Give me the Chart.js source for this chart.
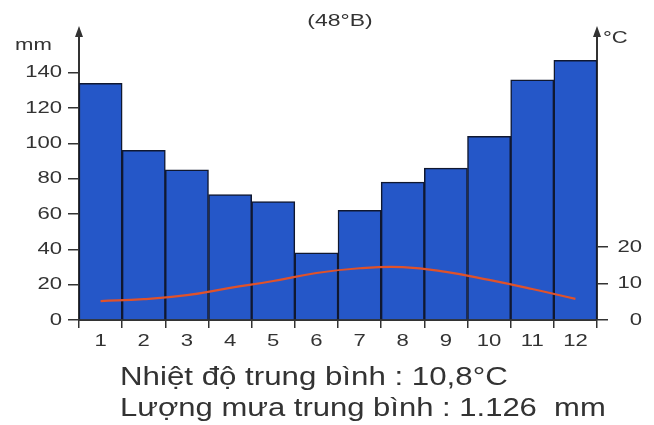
<!DOCTYPE html>
<html>
<head>
<meta charset="utf-8">
<script src="https://cdn.jsdelivr.net/npm/chart.js@4"></script>
<style>
  html, body { margin: 0; padding: 0; background: #fff; }
  #wrap { width: 654px; height: 425px; }
</style>
</head>
<body>
<div id="wrap"><canvas id="climateChart"></canvas></div>
<script>
// climate chart data
var months = ['1', '2', '3', '4', '5', '6', '7', '8', '9', '10', '11', '12'];
var rainfall = [134, 96, 85, 71, 67, 38, 62, 78, 86, 104, 136, 147];
var temperature = [5.2, 5.7, 6.8, 8.8, 10.7, 12.9, 14.2, 14.5, 13.2, 11.0, 8.5, 5.8];
var rainTicks = [0, 20, 40, 60, 80, 100, 120, 140];
var tempTicks = [0, 10, 20];

var textColor = '#333';
var fontFamily = '"Liberation Sans", Arial, sans-serif';

// the scanned figure has wide letters, so text is stretched sideways a bit
function wideText(ctx, text, x, y, align, size, stretch) {
    ctx.save();
    ctx.translate(x, y);
    ctx.scale(stretch, 1);
    ctx.font = size + 'px ' + fontFamily;
    ctx.textAlign = align;
    ctx.textBaseline = 'middle';
    ctx.fillStyle = textColor;
    ctx.fillText(text, 0, 0);
    ctx.restore();
}

// tick labels, arrows, units, title and the two lines of text under the chart
var extrasPlugin = {
    id: 'extras',
    afterDraw: function (chart) {
        var ctx = chart.ctx;
        var area = chart.chartArea;
        var sx = chart.scales.x;
        var sRain = chart.scales.yRain;
        var sTemp = chart.scales.yTemp;

        rainTicks.forEach(function (v) {
            wideText(ctx, String(v), 62, sRain.getPixelForValue(v), 'right', 17, 1.3);
        });
        tempTicks.forEach(function (v) {
            wideText(ctx, String(v), 642, sTemp.getPixelForValue(v), 'right', 17, 1.3);
        });
        months.forEach(function (m, i) {
            wideText(ctx, m, sx.getPixelForValue(i), 341, 'center', 17, 1.3);
        });

        ctx.save();
        ctx.fillStyle = '#333';
        [area.left, area.right].forEach(function (x) {
            ctx.beginPath();
            ctx.moveTo(x, area.top - 6);
            ctx.lineTo(x - 4, area.top + 5);
            ctx.lineTo(x + 4, area.top + 5);
            ctx.closePath();
            ctx.fill();
        });
        ctx.restore();

        wideText(ctx, 'mm', 15, 45, 'left', 17, 1.3);
        wideText(ctx, '°C', 603, 38, 'left', 17, 1.3);
        wideText(ctx, '(48°B)', 340, 21, 'center', 17, 1.35);
        wideText(ctx, 'Nhiệt độ trung bình : 10,8°C', 120, 378, 'left', 25, 1.25);
        wideText(ctx, 'Lượng mưa trung bình : 1.126  mm', 120, 409, 'left', 25, 1.24);
    }
};

var ctxClimate = document.getElementById('climateChart').getContext('2d');
var climateChart = new Chart(ctxClimate, {
    type: 'bar',
    data: {
        labels: months,
        datasets: [{
            type: 'line',
            label: 'Nhiệt độ (°C)',
            data: temperature,
            yAxisID: 'yTemp',
            borderColor: '#e0522a',
            borderWidth: 2.2,
            pointRadius: 0,
            tension: 0.45,
            fill: false
        }, {
            type: 'bar',
            label: 'Lượng mưa (mm)',
            data: rainfall,
            yAxisID: 'yRain',
            backgroundColor: '#2557c8',
            borderColor: '#101830',
            borderWidth: 1.5,
            barPercentage: 1,
            categoryPercentage: 1
        }]
    },
    options: {
        responsive: true,
        maintainAspectRatio: false,
        animation: false,
        layout: { padding: { top: 32, left: 0, right: 0, bottom: 0 } },
        plugins: {
            legend: { display: false },
            tooltip: { enabled: false }
        },
        scales: {
            x: {
                offset: true,
                grid: {
                    offset: true,
                    drawOnChartArea: false,
                    tickLength: 8,
                    color: '#333',
                    lineWidth: 1.5
                },
                border: { color: '#333', width: 2 },
                ticks: { display: false },
                afterFit: function (scale) { scale.height = 105; }
            },
            yRain: {
                position: 'left',
                min: 0,
                max: 163,
                afterBuildTicks: function (scale) {
                    scale.ticks = rainTicks.map(function (v) { return { value: v }; });
                },
                grid: {
                    drawOnChartArea: false,
                    tickLength: 11,
                    color: '#333',
                    lineWidth: 1.5
                },
                border: { color: '#333', width: 2 },
                ticks: { display: false },
                afterFit: function (scale) { scale.width = 79; }
            },
            yTemp: {
                position: 'right',
                min: 0,
                max: 79,
                afterBuildTicks: function (scale) {
                    scale.ticks = tempTicks.map(function (v) { return { value: v }; });
                },
                grid: {
                    drawOnChartArea: false,
                    tickLength: 11,
                    color: '#333',
                    lineWidth: 1.5
                },
                border: { color: '#333', width: 2 },
                ticks: { display: false },
                afterFit: function (scale) { scale.width = 57; }
            }
        }
    },
    plugins: [extrasPlugin]
});
</script>
</body>
</html>
